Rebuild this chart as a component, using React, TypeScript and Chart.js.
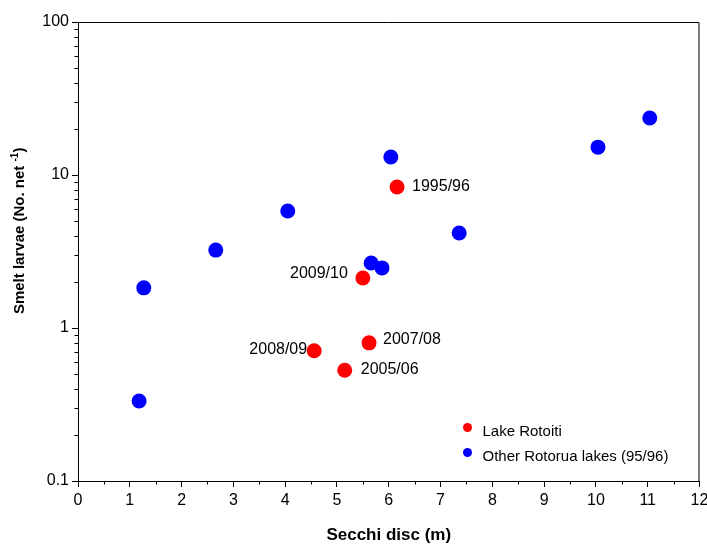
import React, { useEffect, useRef } from 'react';
import { Chart, registerables } from 'chart.js';

Chart.register(...registerables);

// ---- data ----
const rotoitiLabels = ['1995/96', '2009/10', '2007/08', '2008/09', '2005/06'];
const rotoitiSecchi = [6.16, 5.5, 5.62, 4.56, 5.15];
const rotoitiLarvae = [8.35, 2.12, 0.8, 0.71, 0.53];

const otherSecchi = [1.18, 1.27, 2.66, 4.05, 6.04, 5.66, 5.87, 7.36, 10.04, 11.04];
const otherLarvae = [0.333, 1.83, 3.23, 5.82, 13.1, 2.66, 2.47, 4.18, 15.2, 23.6];

const seriesNames = ['Lake Rotoiti', 'Other Rotorua lakes (95/96)'];
const seriesColors = ['#ff0000', '#0000ff'];

const yLabelValues = [0.1, 1, 10, 100];
const yTickValues = [
  0.1, 0.2, 0.3, 0.4, 0.5, 0.6, 0.7, 0.8, 0.9,
  1, 2, 3, 4, 5, 6, 7, 8, 9,
  10, 20, 30, 40, 50, 60, 70, 80, 90, 100,
];
const xTickValues = [0, 0.5, 1, 1.5, 2, 2.5, 3, 3.5, 4, 4.5, 5, 5.5, 6, 6.5, 7, 7.5, 8, 8.5, 9, 9.5, 10, 10.5, 11, 11.5, 12];

const xTitle = 'Secchi disc (m)';
const yTitleMain = 'Smelt larvae (No. net ';
const yTitleSup = '-1';
const yTitleEnd = ')';

// ---- label placement (style) ----
const labelPlacement = [
  { align: 'left', dx: 15, dy: 0 },
  { align: 'right', dx: -15, dy: -4 },
  { align: 'left', dx: 14, dy: -3 },
  { align: 'right', dx: -7, dy: -1 },
  { align: 'left', dx: 16, dy: -1 },
];

const FONT = '"Liberation Sans", Arial, Helvetica, sans-serif';

const isMajorX = (v: number) => Number.isInteger(v);
const isMajorY = (v: number) => yLabelValues.includes(v);

const pointLabelsPlugin = {
  id: 'pointLabels',
  afterDatasetsDraw(chart: any) {
    const meta = chart.getDatasetMeta(0);
    const ctx = chart.ctx;
    ctx.save();
    ctx.font = `16px ${FONT}`;
    ctx.fillStyle = '#000';
    ctx.textBaseline = 'middle';
    meta.data.forEach((el: any, i: number) => {
      const p = labelPlacement[i];
      ctx.textAlign = p.align;
      ctx.fillText(rotoitiLabels[i], el.x + p.dx, el.y + p.dy);
    });
    ctx.restore();
  },
};

const frameAndLegendPlugin = {
  id: 'frameLegend',
  afterDraw(chart: any) {
    const { ctx, chartArea } = chart;
    const { left, right, top, bottom } = chartArea;
    ctx.save();
    ctx.strokeStyle = '#000';
    ctx.lineWidth = 1;
    // frame (top & right)
    ctx.beginPath();
    ctx.moveTo(left, top + 0.5);
    ctx.lineTo(right - 0.5, top + 0.5);
    ctx.lineTo(right - 0.5, bottom);
    ctx.stroke();

    // minor ticks (shorter)
    const xs = chart.scales.x;
    const ys = chart.scales.y;
    ctx.beginPath();
    xTickValues.filter((v) => !isMajorX(v)).forEach((v) => {
      const px = Math.round(xs.getPixelForValue(v)) + 0.5;
      ctx.moveTo(px, bottom);
      ctx.lineTo(px, bottom + 3.5);
    });
    yTickValues.filter((v) => !isMajorY(v)).forEach((v) => {
      const py = Math.round(ys.getPixelForValue(v)) + 0.5;
      ctx.moveTo(left, py);
      ctx.lineTo(left - 3.5, py);
    });
    ctx.stroke();

    // legend
    const dotX = right - 232;
    const rows = [bottom - 49, bottom - 24];
    ctx.font = `15px ${FONT}`;
    ctx.textBaseline = 'middle';
    ctx.textAlign = 'left';
    rows.forEach((y, i) => {
      ctx.fillStyle = seriesColors[i];
      ctx.beginPath();
      ctx.arc(dotX, y - 4.5, 4.5, 0, Math.PI * 2);
      ctx.fill();
      ctx.fillStyle = '#000';
      ctx.fillText(seriesNames[i], dotX + 15, y);
    });

    // y-axis title with superscript
    const cy = top + (bottom - top) * 0.455;
    const cx = 20;
    ctx.translate(cx, cy);
    ctx.rotate(-Math.PI / 2);
    const mainFont = `bold 15px ${FONT}`;
    const supFont = `bold 10px ${FONT}`;
    ctx.font = mainFont;
    const w1 = ctx.measureText(yTitleMain).width;
    const w3 = ctx.measureText(yTitleEnd).width;
    ctx.font = supFont;
    const w2 = ctx.measureText(yTitleSup).width;
    const total = w1 + w2 + w3;
    let x = -total / 2;
    ctx.fillStyle = '#000';
    ctx.textBaseline = 'middle';
    ctx.textAlign = 'left';
    ctx.font = mainFont;
    ctx.fillText(yTitleMain, x, 0);
    x += w1;
    ctx.font = supFont;
    ctx.fillText(yTitleSup, x, -5);
    x += w2;
    ctx.font = mainFont;
    ctx.fillText(yTitleEnd, x, 0);
    ctx.restore();
  },
};

export default function App() {
  const canvasRef = useRef<HTMLCanvasElement | null>(null);

  useEffect(() => {
    if (!canvasRef.current) return;
    Chart.defaults.font.family = FONT;
    Chart.defaults.color = '#000';
    const chart = new Chart(canvasRef.current, {
      type: 'scatter',
      data: {
        datasets: [
          {
            label: seriesNames[0],
            data: rotoitiSecchi.map((x, i) => ({ x, y: rotoitiLarvae[i] })),
            backgroundColor: seriesColors[0],
            borderColor: seriesColors[0],
            pointRadius: 7.5,
            pointHoverRadius: 7.5,
            borderWidth: 0,
          },
          {
            label: seriesNames[1],
            data: otherSecchi.map((x, i) => ({ x, y: otherLarvae[i] })),
            backgroundColor: seriesColors[1],
            borderColor: seriesColors[1],
            pointRadius: 7.5,
            pointHoverRadius: 7.5,
            borderWidth: 0,
          },
        ],
      },
      options: {
        responsive: false,
        animation: false,
        layout: { padding: { top: 22, right: 7, left: 0, bottom: 0 } },
        plugins: {
          legend: { display: false },
          tooltip: { enabled: false },
        },
        scales: {
          x: {
            type: 'linear',
            min: 0,
            max: 12,
            afterBuildTicks: (scale: any) => {
              scale.ticks = xTickValues.map((value) => ({ value }));
            },
            afterFit: (scale: any) => {
              scale.height = 65;
              scale.paddingLeft = 0;
              scale.paddingRight = 0;
            },
            grid: {
              display: true,
              drawOnChartArea: false,
              drawTicks: true,
              tickLength: 6,
              color: '#000',
              tickColor: (c: any) => (c.tick && isMajorX(c.tick.value) ? '#000' : 'rgba(0,0,0,0)'),
            },
            border: { display: true, color: '#000', width: 1 },
            ticks: {
              autoSkip: false,
              maxRotation: 0,
              padding: 4,
              color: '#000',
              font: { size: 16, family: FONT },
              callback: (v: any) => (isMajorX(Number(v)) ? String(v) : ''),
            },
            title: {
              display: true,
              text: xTitle,
              color: '#000',
              font: { size: 17, weight: 'bold', family: FONT },
              padding: { top: 0, bottom: 0 },
            },
          },
          y: {
            type: 'logarithmic',
            min: 0.1,
            max: 100,
            afterBuildTicks: (scale: any) => {
              scale.ticks = yTickValues.map((value) => ({ value }));
            },
            afterFit: (scale: any) => {
              scale.width = 78;
              scale.paddingTop = 0;
              scale.paddingBottom = 0;
            },
            grid: {
              display: true,
              drawOnChartArea: false,
              drawTicks: true,
              tickLength: 6,
              color: '#000',
              tickColor: (c: any) => (c.tick && isMajorY(c.tick.value) ? '#000' : 'rgba(0,0,0,0)'),
            },
            border: { display: true, color: '#000', width: 1 },
            ticks: {
              autoSkip: false,
              padding: 3,
              color: '#000',
              font: { size: 16, family: FONT },
              callback: (v: any) => (isMajorY(Number(v)) ? String(v) : ''),
            },
            title: { display: false, text: yTitleMain + yTitleSup + yTitleEnd },
          },
        },
      },
      plugins: [pointLabelsPlugin, frameAndLegendPlugin],
    } as any);
    return () => chart.destroy();
  }, []);

  return (
    <div style={{ position: 'absolute', left: 0, top: 0, width: 707, height: 546, background: '#fff' }}>
      <canvas ref={canvasRef} width={707} height={546} style={{ display: 'block' }} />
    </div>
  );
}
